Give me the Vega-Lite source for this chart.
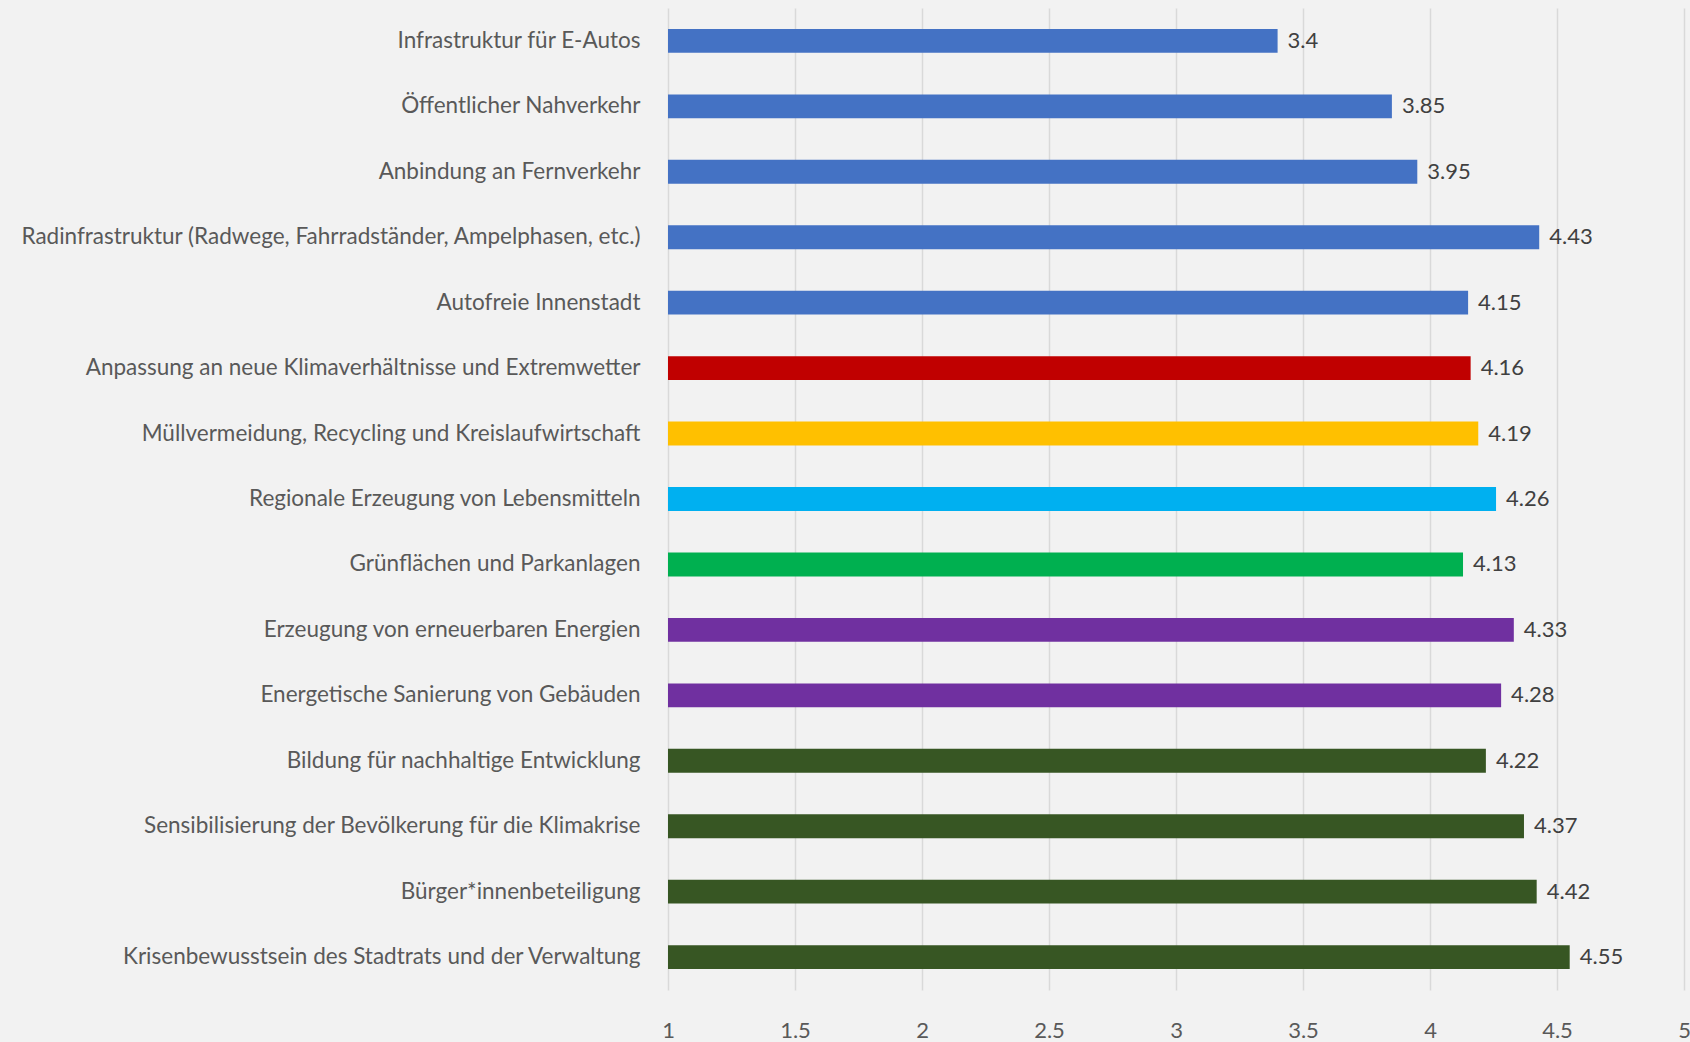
{
  "$schema": "https://vega.github.io/schema/vega-lite/v6.json",
  "width": 1016,
  "height": 982,
  "autosize": {"type": "none"},
  "padding": {"left": 668, "top": 8, "right": 6, "bottom": 52},
  "background": "#F2F2F2",
  "config": {
    "view": {"stroke": null},
    "font": "Lato",
    "axis": {"labelFont": "Lato", "titleFont": "Lato"}
  },
  "data": {
    "values": [
      {"item": "Infrastruktur für E-Autos", "value": 3.4, "group": "Mobilität"},
      {"item": "Öffentlicher Nahverkehr", "value": 3.85, "group": "Mobilität"},
      {"item": "Anbindung an Fernverkehr", "value": 3.95, "group": "Mobilität"},
      {"item": "Radinfrastruktur (Radwege, Fahrradständer, Ampelphasen, etc.)", "value": 4.43, "group": "Mobilität"},
      {"item": "Autofreie Innenstadt", "value": 4.15, "group": "Mobilität"},
      {"item": "Anpassung an neue Klimaverhältnisse und Extremwetter", "value": 4.16, "group": "Klimaanpassung"},
      {"item": "Müllvermeidung, Recycling und Kreislaufwirtschaft", "value": 4.19, "group": "Abfall"},
      {"item": "Regionale Erzeugung von Lebensmitteln", "value": 4.26, "group": "Ernährung"},
      {"item": "Grünflächen und Parkanlagen", "value": 4.13, "group": "Grün"},
      {"item": "Erzeugung von erneuerbaren Energien", "value": 4.33, "group": "Energie"},
      {"item": "Energetische Sanierung von Gebäuden", "value": 4.28, "group": "Energie"},
      {"item": "Bildung für nachhaltige Entwicklung", "value": 4.22, "group": "Gesellschaft"},
      {"item": "Sensibilisierung der Bevölkerung für die Klimakrise", "value": 4.37, "group": "Gesellschaft"},
      {"item": "Bürger*innenbeteiligung", "value": 4.42, "group": "Gesellschaft"},
      {"item": "Krisenbewusstsein des Stadtrats und der Verwaltung", "value": 4.55, "group": "Gesellschaft"}
    ]
  },
  "encoding": {
    "y": {
      "field": "item",
      "type": "nominal",
      "sort": null,
      "scale": {"paddingInner": 0.635, "paddingOuter": 0.32},
      "axis": {
        "title": null,
        "domain": false,
        "ticks": false,
        "labelFontSize": 22.5,
        "labelColor": "#595959",
        "labelPadding": 28,
        "labelLimit": 700
      }
    }
  },
  "layer": [
    {
      "mark": {"type": "bar"},
      "encoding": {
        "x": {
          "field": "value",
          "type": "quantitative",
          "scale": {"domain": [1, 5], "zero": false, "nice": false},
          "axis": {
            "title": null,
            "values": [1, 1.5, 2, 2.5, 3, 3.5, 4, 4.5, 5],
            "format": "~g",
            "domain": false,
            "ticks": false,
            "grid": true,
            "gridColor": "#D9D9D9",
            "gridWidth": 1.5,
            "labelFontSize": 22,
            "labelColor": "#595959",
            "labelPadding": 30,
            "labelFlush": false
          }
        },
        "x2": {"datum": 1},
        "color": {
          "field": "group",
          "type": "nominal",
          "legend": null,
          "scale": {
            "domain": ["Mobilität", "Klimaanpassung", "Abfall", "Ernährung", "Grün", "Energie", "Gesellschaft"],
            "range": ["#4472C4", "#C00000", "#FFC000", "#00B0F0", "#00B050", "#7030A0", "#375623"]
          }
        }
      }
    },
    {
      "mark": {"type": "text", "align": "left", "baseline": "middle", "dx": 10, "fontSize": 22, "color": "#404040", "font": "Lato"},
      "encoding": {
        "x": {"field": "value", "type": "quantitative"},
        "text": {"field": "value", "type": "quantitative", "format": "~g"}
      }
    }
  ]
}
